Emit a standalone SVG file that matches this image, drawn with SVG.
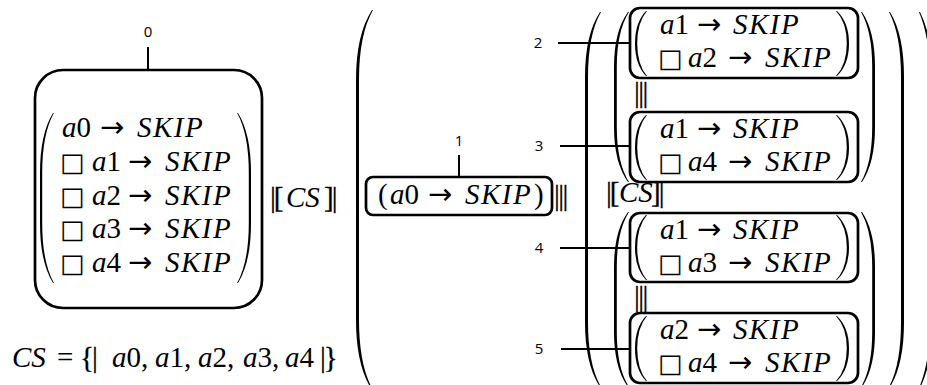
<svg xmlns="http://www.w3.org/2000/svg" xmlns:xlink="http://www.w3.org/1999/xlink" width="927" height="385" viewBox="0 0 927 385">
<style>
.m{font-family:"Liberation Serif","DejaVu Serif",serif;font-size:29px;fill:#000}
.i{font-style:italic}
.sk{font-style:italic;letter-spacing:1.5px}
.ar{font-family:"DejaVu Sans",sans-serif;font-size:29px;font-style:normal}
.sq{font-family:"DejaVu Sans",sans-serif;font-size:26px;font-style:normal}
.br{letter-spacing:-2px;stroke:#000;stroke-width:0.3}
.bars{letter-spacing:-1.5px;stroke:#000;stroke-width:0.3}
.lbl{font-family:"Open Sans","Liberation Sans",sans-serif;font-size:15px;text-anchor:middle;fill:#000}
.box{fill:none;stroke:#000;stroke-width:2.7}
.lead{stroke:#000;stroke-width:2;fill:none}
.par{fill:#000}
</style>
<defs>
<path id="bl" d="M11,0 Q0,11.4 0,32.5 Q0,53.6 11,65 L12,65 Q2.2,53.6 2.2,32.5 Q2.2,11.4 12,0 Z"/>
<path id="br" d="M0,0 Q12,11.4 12,32.5 Q12,53.6 0,65 L-1,65 Q9.8,53.6 9.8,32.5 Q9.8,11.4 -1,0 Z"/>
</defs>
<rect width="927" height="385" fill="#fff"/>

<g id="connectors">
<line class="lead" x1="148" y1="47" x2="148" y2="70"/>
<line class="lead" x1="459" y1="155" x2="459" y2="177"/>
<line class="lead" x1="558" y1="43" x2="630" y2="43"/>
<line class="lead" x1="560" y1="146" x2="630" y2="146"/>
<line class="lead" x1="560" y1="248" x2="630" y2="248"/>
<line class="lead" x1="561" y1="349" x2="630" y2="349"/>
</g>

<g id="labels">
<text class="lbl" x="148" y="37">0</text>
<text class="lbl" x="459" y="146">1</text>
<text class="lbl" x="538" y="48">2</text>
<text class="lbl" x="539" y="151">3</text>
<text class="lbl" x="539" y="253">4</text>
<text class="lbl" x="539" y="354">5</text>
</g>

<g id="expression">
<path class="par" d="M372,10 Q356,34.5 356,80 L356,320 Q356,365.5 372,390 L373,390 Q359,365.5 359,320 L359,80 Q359,34.5 373,10 Z"/>
<path class="par" d="M920,12 Q934,40 934,92 L934,308 Q934,360 920,388 L919,388 Q931,360 931,308 L931,92 Q931,40 919,12 Z"/>
<path class="par" d="M600,12 Q585,34.75 585,77 L585,322 Q585,364.25 600,387 L601,387 Q588,364.25 588,322 L588,77 Q588,34.75 601,12 Z"/>
<path class="par" d="M890,12 Q904,34.75 904,77 L904,322 Q904,364.25 890,387 L889,387 Q901,364.25 901,322 L901,77 Q901,34.75 889,12 Z"/>
<path class="par" d="M628,12 Q614,31.25 614,67 L614,127 Q614,162.75 628,182 L629,182 Q616.8,162.75 616.8,127 L616.8,67 Q616.8,31.25 629,12 Z"/>
<path class="par" d="M862,12 Q875,31.25 875,67 L875,127 Q875,162.75 862,182 L861,182 Q872.2,162.75 872.2,127 L872.2,67 Q872.2,31.25 861,12 Z"/>
<path class="par" d="M628,212 Q614,231.25 614,267 L614,332 Q614,367.75 628,387 L629,387 Q616.8,367.75 616.8,332 L616.8,267 Q616.8,231.25 629,212 Z"/>
<path class="par" d="M862,212 Q875,231.25 875,267 L875,332 Q875,367.75 862,387 L861,387 Q872.2,367.75 872.2,332 L872.2,267 Q872.2,231.25 861,212 Z"/>
<text class="m" y="207"><tspan x="270" class="br">|[</tspan><tspan x="286" class="i">CS</tspan><tspan x="324" class="br">]|</tspan></text>
<text class="m bars" y="205" x="554">|||</text>
<text class="m" y="202"><tspan x="606" class="br">|[</tspan><tspan x="619" class="i">CS</tspan><tspan x="651" class="br">]|</tspan></text>
<text class="m bars" y="102" x="634">|||</text>
<text class="m bars" y="306" x="634">|||</text>
<text class="m" y="367"><tspan x="12" class="i">CS</tspan><tspan x="57">=</tspan><tspan x="80" class="br">{|</tspan><tspan x="112" class="i">a</tspan><tspan>0,</tspan><tspan x="155" class="i">a</tspan><tspan>1,</tspan><tspan x="198" class="i">a</tspan><tspan>2,</tspan><tspan x="243" class="i">a</tspan><tspan>3,</tspan><tspan x="285" class="i">a</tspan><tspan>4</tspan><tspan x="320" class="br">|}</tspan></text>
</g>

<g id="node0">
<rect class="box" x="35" y="70" width="227" height="238" rx="28"/>
<path class="par" d="M53,113 Q40,134 40,173 L40,223 Q40,262 53,283 L53.9,283 Q42.2,262 42.2,223 L42.2,173 Q42.2,134 53.9,113 Z"/>
<path class="par" d="M238,113 Q251,134 251,173 L251,223 Q251,262 238,283 L237.1,283 Q248.8,262 248.8,223 L248.8,173 Q248.8,134 237.1,113 Z"/>
<text class="m" y="137"><tspan x="62" class="i">a</tspan><tspan>0</tspan><tspan x="100" class="ar">→</tspan><tspan x="137" class="sk">SKIP</tspan></text>
<text class="m" y="171"><tspan x="60" class="sq">□</tspan><tspan x="92" class="i">a</tspan><tspan>1</tspan><tspan x="128" class="ar">→</tspan><tspan x="165" class="sk">SKIP</tspan></text>
<text class="m" y="205"><tspan x="60" class="sq">□</tspan><tspan x="92" class="i">a</tspan><tspan>2</tspan><tspan x="128" class="ar">→</tspan><tspan x="165" class="sk">SKIP</tspan></text>
<text class="m" y="238"><tspan x="60" class="sq">□</tspan><tspan x="92" class="i">a</tspan><tspan>3</tspan><tspan x="128" class="ar">→</tspan><tspan x="165" class="sk">SKIP</tspan></text>
<text class="m" y="272"><tspan x="60" class="sq">□</tspan><tspan x="92" class="i">a</tspan><tspan>4</tspan><tspan x="128" class="ar">→</tspan><tspan x="165" class="sk">SKIP</tspan></text>
</g>

<g id="node1">
<rect class="box" x="366" y="177" width="186" height="38" rx="7"/>
<text class="m" y="204"><tspan x="378">(</tspan><tspan x="390" class="i">a</tspan><tspan>0</tspan><tspan x="428" class="ar">→</tspan><tspan x="465" class="sk">SKIP</tspan><tspan x="534">)</tspan></text>
</g>

<g id="node2">
<rect class="box" x="630" y="8" width="228" height="70" rx="10"/>
<use xlink:href="#bl" x="635" y="11"/><use xlink:href="#br" x="837" y="11"/>
<text class="m" y="34"><tspan x="660" class="i">a</tspan><tspan>1</tspan><tspan x="697" class="ar">→</tspan><tspan x="733" class="sk">SKIP</tspan></text>
<text class="m" y="67"><tspan x="658" class="sq">□</tspan><tspan x="688" class="i">a</tspan><tspan>2</tspan><tspan x="728" class="ar">→</tspan><tspan x="765" class="sk">SKIP</tspan></text>
</g>

<g id="node3">
<rect class="box" x="630" y="112" width="228" height="70" rx="10"/>
<use xlink:href="#bl" x="635" y="115"/><use xlink:href="#br" x="837" y="115"/>
<text class="m" y="138"><tspan x="660" class="i">a</tspan><tspan>1</tspan><tspan x="697" class="ar">→</tspan><tspan x="733" class="sk">SKIP</tspan></text>
<text class="m" y="171"><tspan x="658" class="sq">□</tspan><tspan x="688" class="i">a</tspan><tspan>4</tspan><tspan x="728" class="ar">→</tspan><tspan x="765" class="sk">SKIP</tspan></text>
</g>

<g id="node4">
<rect class="box" x="630" y="213" width="228" height="69" rx="10"/>
<use xlink:href="#bl" x="635" y="215"/><use xlink:href="#br" x="837" y="215"/>
<text class="m" y="239"><tspan x="660" class="i">a</tspan><tspan>1</tspan><tspan x="697" class="ar">→</tspan><tspan x="733" class="sk">SKIP</tspan></text>
<text class="m" y="272"><tspan x="658" class="sq">□</tspan><tspan x="688" class="i">a</tspan><tspan>3</tspan><tspan x="728" class="ar">→</tspan><tspan x="765" class="sk">SKIP</tspan></text>
</g>

<g id="node5">
<rect class="box" x="630" y="313" width="228" height="70" rx="10"/>
<use xlink:href="#bl" x="635" y="316"/><use xlink:href="#br" x="837" y="316"/>
<text class="m" y="339"><tspan x="660" class="i">a</tspan><tspan>2</tspan><tspan x="697" class="ar">→</tspan><tspan x="733" class="sk">SKIP</tspan></text>
<text class="m" y="372"><tspan x="658" class="sq">□</tspan><tspan x="688" class="i">a</tspan><tspan>4</tspan><tspan x="728" class="ar">→</tspan><tspan x="765" class="sk">SKIP</tspan></text>
</g>
</svg>
